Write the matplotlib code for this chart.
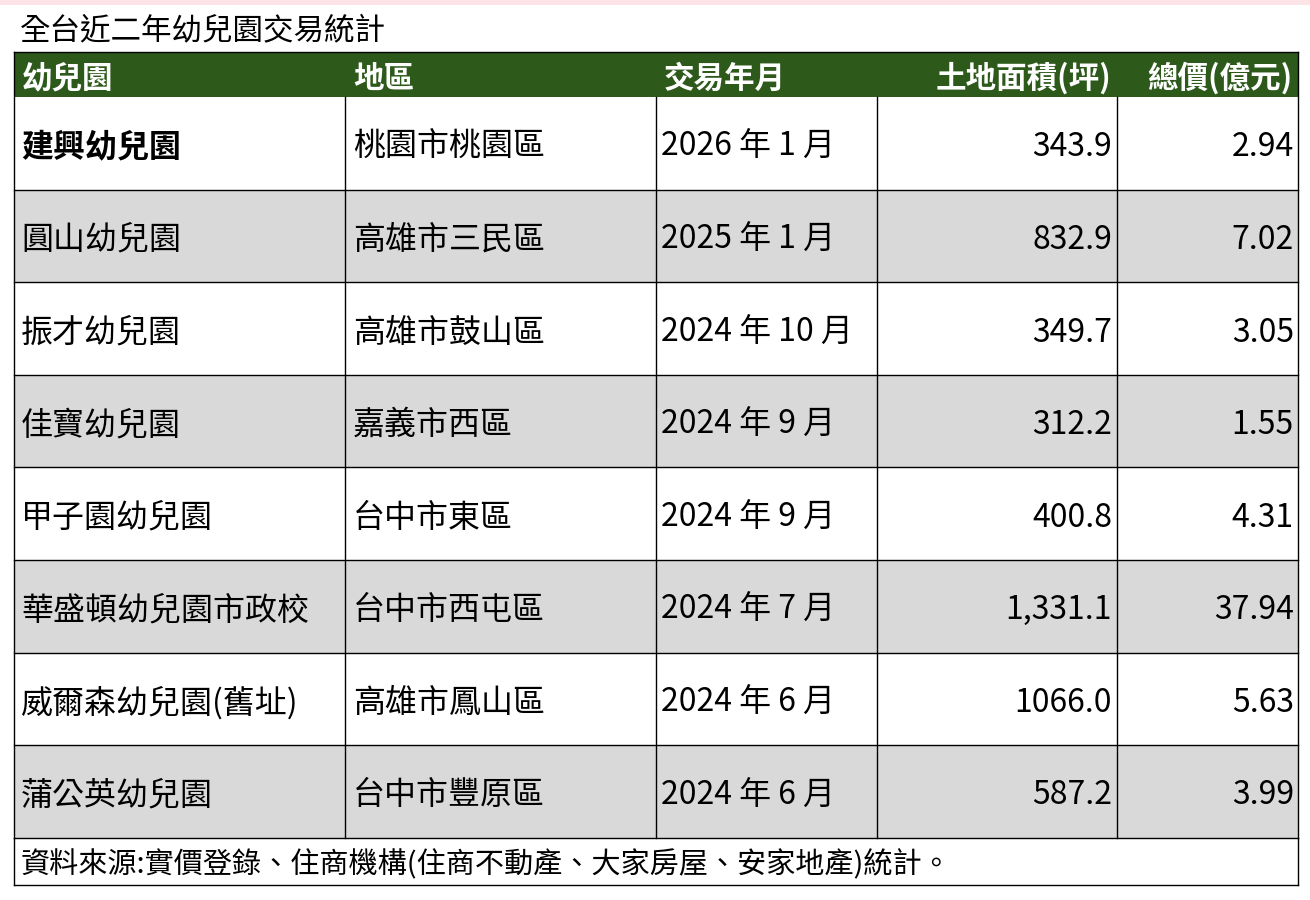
import matplotlib
matplotlib.use("Agg")
import matplotlib.pyplot as plt
from matplotlib.patches import Rectangle

plt.rcParams['font.family'] = ['Noto Sans CJK TC', 'DejaVu Sans']

title = "全台近二年幼兒園交易統計"
headers = ["幼兒園", "地區", "交易年月", "土地面積(坪)", "總價(億元)"]
names = ["建興幼兒園", "圓山幼兒園", "振才幼兒園", "佳寶幼兒園", "甲子園幼兒園",
         "華盛頓幼兒園市政校", "威爾森幼兒園(舊址)", "蒲公英幼兒園"]
regions = ["桃園市桃園區", "高雄市三民區", "高雄市鼓山區", "嘉義市西區", "台中市東區",
           "台中市西屯區", "高雄市鳳山區", "台中市豐原區"]
dates = ["2026 年 1 月", "2025 年 1 月", "2024 年 10 月", "2024 年 9 月", "2024 年 9 月",
         "2024 年 7 月", "2024 年 6 月", "2024 年 6 月"]
areas = ["343.9", "832.9", "349.7", "312.2", "400.8", "1,331.1", "1066.0", "587.2"]
prices = ["2.94", "7.02", "3.05", "1.55", "4.31", "37.94", "5.63", "3.99"]
footer = "資料來源:實價登錄、住商機構(住商不動產、大家房屋、安家地產)統計。"

W, H = 1310, 900
fig = plt.figure(figsize=(W/100, H/100), dpi=100)
ax = fig.add_axes([0, 0, 1, 1])
ax.set_xlim(0, W); ax.set_ylim(H, 0); ax.axis('off')

ax.add_patch(Rectangle((0, 0), W, 5, color='#fbe3e6', lw=0))
ax.text(20, 31, title, fontsize=22, va='center', ha='left')

cols = [14, 345, 656, 877, 1117, 1298]
hy0, hy1 = 52, 97
rh = 92.6
dy = 4
green = '#2d5a1b'
ax.add_patch(Rectangle((cols[0], hy0), cols[-1]-cols[0], hy1-hy0, color=green, lw=0))
for i, h in enumerate(headers):
    if i < 3:
        ax.text(cols[i]+8, (hy0+hy1)/2+dy, h, color='white', fontsize=22, fontweight='bold', va='center', ha='left')
    else:
        ax.text(cols[i+1]-6, (hy0+hy1)/2+dy, h, color='white', fontsize=22, fontweight='bold', va='center', ha='right')

for r in range(len(names)):
    y0 = hy1 + r*rh
    if r % 2 == 1:
        ax.add_patch(Rectangle((cols[0], y0), cols[-1]-cols[0], rh, color='#d9d9d9', lw=0))
    yc = y0 + rh/2 + dy
    ax.text(cols[0]+7, yc, names[r], fontsize=23, va='center', ha='left',
            fontweight='bold' if r == 0 else 'normal')
    ax.text(cols[1]+8, yc, regions[r], fontsize=23, va='center', ha='left')
    ax.text(cols[2]+5, yc, dates[r], fontsize=23, va='center', ha='left')
    ax.text(cols[4]-5, yc, areas[r], fontsize=23, va='center', ha='right')
    ax.text(cols[5]-4, yc, prices[r], fontsize=23, va='center', ha='right')
    ax.plot([cols[0], cols[-1]], [y0+rh, y0+rh], color='black', lw=1)

ybot = hy1 + len(names)*rh
for x in cols:
    ax.plot([x, x], [hy0 if x in (cols[0], cols[-1]) else hy1, ybot], color='black', lw=1)
fy1 = 885
ax.plot([cols[0], cols[0]], [ybot, fy1], color='black', lw=1)
ax.plot([cols[-1], cols[-1]], [ybot, fy1], color='black', lw=1)
ax.plot([cols[0], cols[-1]], [fy1, fy1], color='black', lw=1)
ax.plot([cols[0], cols[-1]], [hy0, hy0], color='black', lw=1)
ax.text(cols[0]+7, (ybot+fy1)/2+dy, footer, fontsize=21, va='center', ha='left')

fig.savefig('out.png', dpi=100)
